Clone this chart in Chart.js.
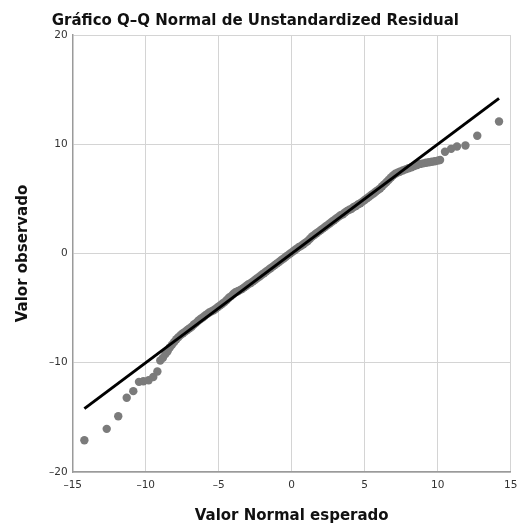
<!DOCTYPE html>
<html>
<head>
<meta charset="utf-8">
<script src="https://cdn.jsdelivr.net/npm/chart.js@4"></script>
<style>
  html, body { margin: 0; padding: 0; background: #fff; }
  #wrap { width: 518px; height: 525px; position: relative; }
</style>
</head>
<body>
<div id="wrap"><canvas id="qq"></canvas></div>
<script>
// Valor Normal esperado (x) y Valor observado (y)
const expected = [
  -14.2, -12.67, -11.88, -11.3, -10.85, -10.46, -10.16, -9.8, -9.48, -9.2,
  -9.0, -8.82, -8.65, -8.5, -8.35, -8.2, -8.05, -7.9, -7.75, -7.6,
  -7.45, -7.3, -7.15, -7.0, -6.85, -6.7, -6.55, -6.4, -6.25, -6.1,
  -5.95, -5.8, -5.65, -5.5, -5.35, -5.2, -5.05, -4.9, -4.75, -4.6,
  -4.45, -4.3, -4.15, -4.0, -3.85, -3.7, -3.55, -3.4, -3.25, -3.1,
  -2.95, -2.8, -2.65, -2.5, -2.35, -2.2, -2.05, -1.9, -1.75, -1.6,
  -1.45, -1.3, -1.15, -1.0, -0.85, -0.7, -0.55, -0.4, -0.25, -0.1,
  0.05, 0.2, 0.35, 0.5, 0.65, 0.8, 0.95, 1.1, 1.25, 1.4,
  1.55, 1.7, 1.85, 2.0, 2.15, 2.3, 2.45, 2.6, 2.75, 2.9,
  3.05, 3.2, 3.35, 3.5, 3.65, 3.8, 3.95, 4.1, 4.25, 4.4,
  4.55, 4.7, 4.85, 5.0, 5.15, 5.3, 5.45, 5.6, 5.75, 5.9,
  6.05, 6.2, 6.35, 6.5, 6.65, 6.8, 6.95, 7.1, 7.25, 7.4,
  7.6, 7.8, 8.0, 8.2, 8.4, 8.6, 8.8, 9.0, 9.2, 9.4,
  9.6, 9.8, 10.0, 10.16, 10.5, 10.92, 11.32, 11.9, 12.71, 14.2
];
const observed = [
  -17.1, -16.05, -14.9, -13.2, -12.6, -11.75, -11.7, -11.6, -11.3, -10.8,
  -9.8, -9.55, -9.2, -8.95, -8.6, -8.35, -8.1, -7.85, -7.65, -7.45,
  -7.3, -7.15, -7.0, -6.85, -6.7, -6.5, -6.35, -6.15, -6.0, -5.85,
  -5.7, -5.55, -5.4, -5.3, -5.2, -5.05, -4.9, -4.75, -4.6, -4.45,
  -4.25, -4.05, -3.9, -3.7, -3.55, -3.45, -3.35, -3.25, -3.1, -2.95,
  -2.8, -2.7, -2.55, -2.4, -2.25, -2.1, -1.95, -1.8, -1.65, -1.5,
  -1.35, -1.2, -1.05, -0.9, -0.75, -0.6, -0.45, -0.3, -0.15, 0.0,
  0.15, 0.3, 0.45, 0.6, 0.7, 0.85, 1.0, 1.15, 1.35, 1.55,
  1.7, 1.85, 2.0, 2.15, 2.3, 2.45, 2.6, 2.75, 2.9, 3.05,
  3.2, 3.35, 3.5, 3.6, 3.75, 3.9, 4.0, 4.1, 4.25, 4.35,
  4.5, 4.6, 4.75, 4.9, 5.05, 5.2, 5.35, 5.5, 5.65, 5.8,
  5.95, 6.15, 6.35, 6.55, 6.75, 6.95, 7.15, 7.3, 7.4, 7.48,
  7.6, 7.7, 7.8, 7.9, 8.0, 8.1, 8.2, 8.25, 8.3, 8.35,
  8.4, 8.45, 8.5, 8.56, 9.32, 9.58, 9.8, 9.88, 10.78, 12.08
];
// recta de referencia
const refX = [-14.2, 14.2];
const refY = [-14.2, 14.2];

const xTicks = [-15, -10, -5, 0, 5, 10, 15];
const yTicks = [-20, -10, 0, 10, 20];

const dash = v => (v < 0 ? '\u2013' + Math.abs(v) : String(v));
const tickFont = { family: 'DejaVu Sans', size: 10.5 };
const boldFont = { family: 'DejaVu Sans', size: 15, weight: 'bold', lineHeight: 1.2 };

new Chart(document.getElementById('qq'), {
  type: 'scatter',
  data: {
    datasets: [
      {
        type: 'line',
        data: refX.map((x, i) => ({ x, y: refY[i] })),
        borderColor: '#000',
        borderWidth: 3,
        pointRadius: 0,
        fill: false,
        order: 0
      },
      {
        data: expected.map((x, i) => ({ x, y: observed[i] })),
        backgroundColor: '#7b7b7b',
        borderWidth: 0,
        pointRadius: 4.2,
        order: 1
      }
    ]
  },
  options: {
    responsive: true,
    maintainAspectRatio: false,
    animation: false,
    layout: { padding: { left: 0, right: 7.3, top: 0, bottom: 0 } },
    plugins: {
      legend: { display: false },
      tooltip: { enabled: false },
      title: {
        display: true,
        text: 'Gráfico Q–Q Normal de Unstandardized Residual',
        color: '#111',
        font: boldFont,
        padding: { top: 12, bottom: 5 }
      }
    },
    scales: {
      x: {
        type: 'linear',
        min: -15, max: 15,
        afterBuildTicks: s => { s.ticks = xTicks.map(v => ({ value: v })); },
        afterFit: s => { s.height = 53; s.paddingLeft = 0; s.paddingRight = 0; },
        ticks: { callback: dash, color: '#333', padding: 7, maxRotation: 0, font: tickFont },
        grid: { color: '#d4d4d4', lineWidth: 1, drawTicks: false },
        border: { color: '#9a9a9a', width: 1.5 },
        title: {
          display: true, text: 'Valor Normal esperado', color: '#111',
          font: boldFont,
          padding: { top: 0, bottom: 0 }
        }
      },
      y: {
        type: 'linear',
        min: -20, max: 20,
        afterBuildTicks: s => { s.ticks = yTicks.map(v => ({ value: v })); },
        afterFit: s => { s.width = 72.7; },
        ticks: { callback: dash, color: '#333', padding: 5, font: tickFont },
        grid: { color: '#d4d4d4', lineWidth: 1, drawTicks: false },
        border: { color: '#9a9a9a', width: 1.5 },
        title: {
          display: true, text: 'Valor observado', color: '#111',
          font: boldFont,
          padding: { top: 14.5, bottom: 0 }
        }
      }
    }
  }
});
</script>
</body>
</html>
